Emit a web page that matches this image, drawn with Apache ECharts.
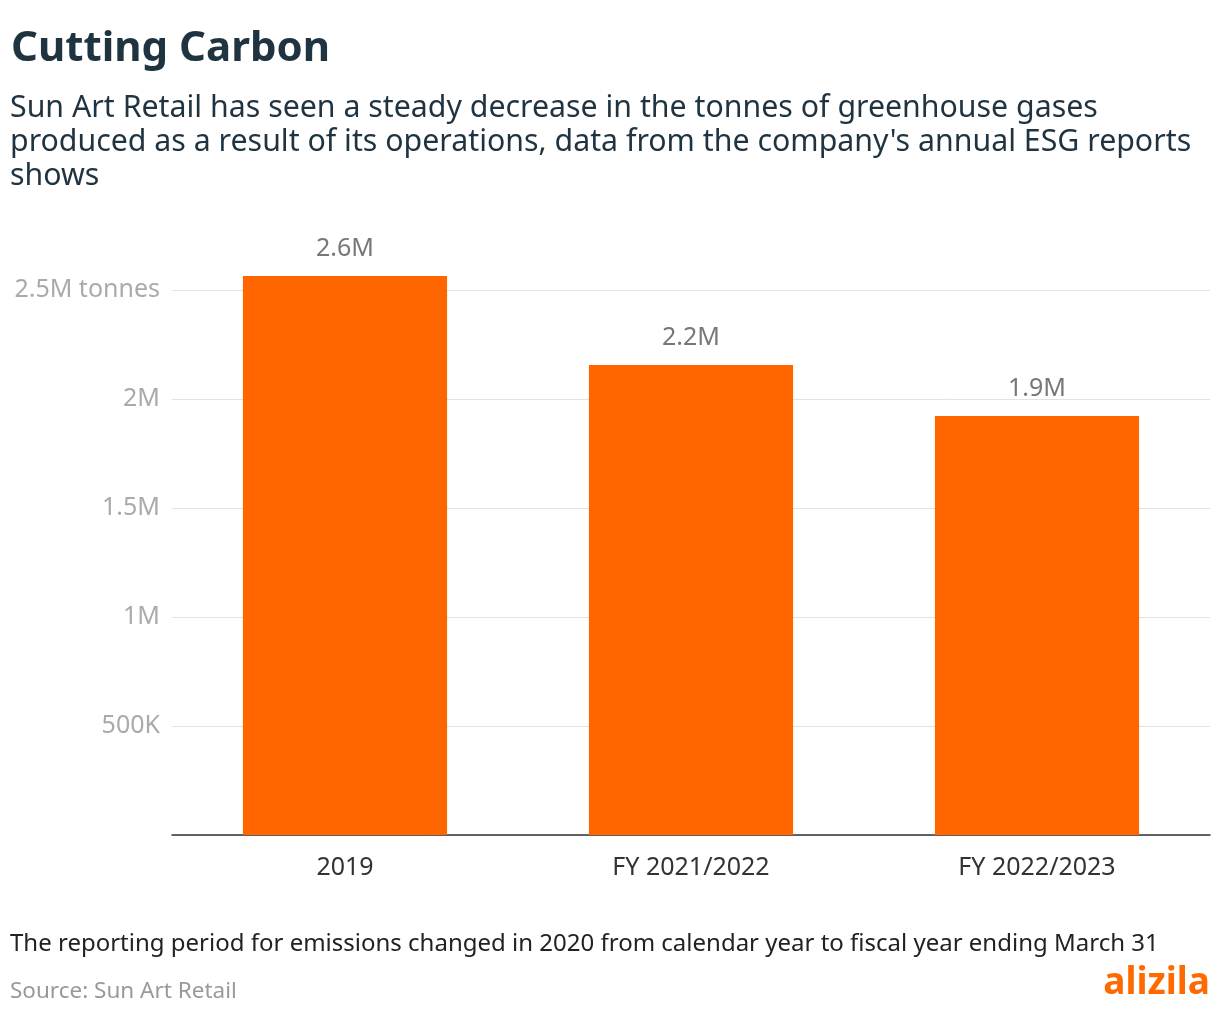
<!DOCTYPE html>
<html>
<head>
<meta charset="utf-8">
<script src="https://cdn.jsdelivr.net/npm/echarts@6/dist/echarts.min.js"></script>
<style>html,body{margin:0;padding:0;background:#fff}#chart{width:1220px;height:1020px}</style>
</head>
<body>
<div id="chart"></div>
<script>
var categories = ['2019', 'FY 2021/2022', 'FY 2022/2023']
var emissions = [2564000, 2156000, 1922000]
var barLabels = ['2.6M', '2.2M', '1.9M']
var yTicks = {0: '', 500000: '500K', 1000000: '1M', 1500000: '1.5M', 2000000: '2M', 2500000: '2.5M tonnes'}

var font = 'Noto Sans'
var chart = echarts.init(document.getElementById('chart'))
chart.setOption({
  animation: false,
  textStyle: {fontFamily: font},
  title: {
    text: 'Cutting Carbon', left: 6, top: 23,
    textStyle: {fontSize: 42, fontWeight: 'bold', color: '#1f3340', fontFamily: font}
  },
  graphic: [
    {type: 'text', left: 10, top: 91, style: {
      text: "Sun Art Retail has seen a steady decrease in the tonnes of greenhouse gases\nproduced as a result of its operations, data from the company's annual ESG reports\nshows",
      font: '30.3px "Noto Sans"', lineHeight: 34, fill: '#1f3340'}},
    {type: 'text', left: 10, top: 932, style: {
      text: 'The reporting period for emissions changed in 2020 from calendar year to fiscal year ending March 31',
      font: '24px "Noto Sans"', fill: '#222'}},
    {type: 'text', left: 10, top: 980, style: {
      text: 'Source: Sun Art Retail', font: '22.5px "Noto Sans"', fill: '#999'}},
    {type: 'text', right: 10, top: 965, style: {
      text: 'alizila', font: 'bold 37px "Noto Sans"', fill: '#ff6a00'}}
  ],
  grid: {left: 172, right: 10, top: 290, bottom: 185},
  xAxis: {
    type: 'category', data: categories,
    axisLine: {lineStyle: {color: '#333', width: 1.5}},
    axisTick: {show: false},
    axisLabel: {fontSize: 25, color: '#333', margin: 20, fontFamily: font}
  },
  yAxis: {
    type: 'value', min: 0, max: 2500000, interval: 500000,
    axisLine: {show: false}, axisTick: {show: false},
    splitLine: {lineStyle: {color: '#e2e2e2'}},
    axisLabel: {fontSize: 25, color: '#aaa', margin: 12, fontFamily: font,
      formatter: function (v) { return yTicks[v] }}
  },
  series: [{
    type: 'bar', data: emissions, barWidth: '59%', clip: false,
    itemStyle: {color: '#ff6600'},
    label: {show: true, position: 'top', distance: 15, fontSize: 25, color: '#777', fontFamily: font,
      formatter: function (p) { return barLabels[p.dataIndex] }}
  }]
})
</script>
</body>
</html>
